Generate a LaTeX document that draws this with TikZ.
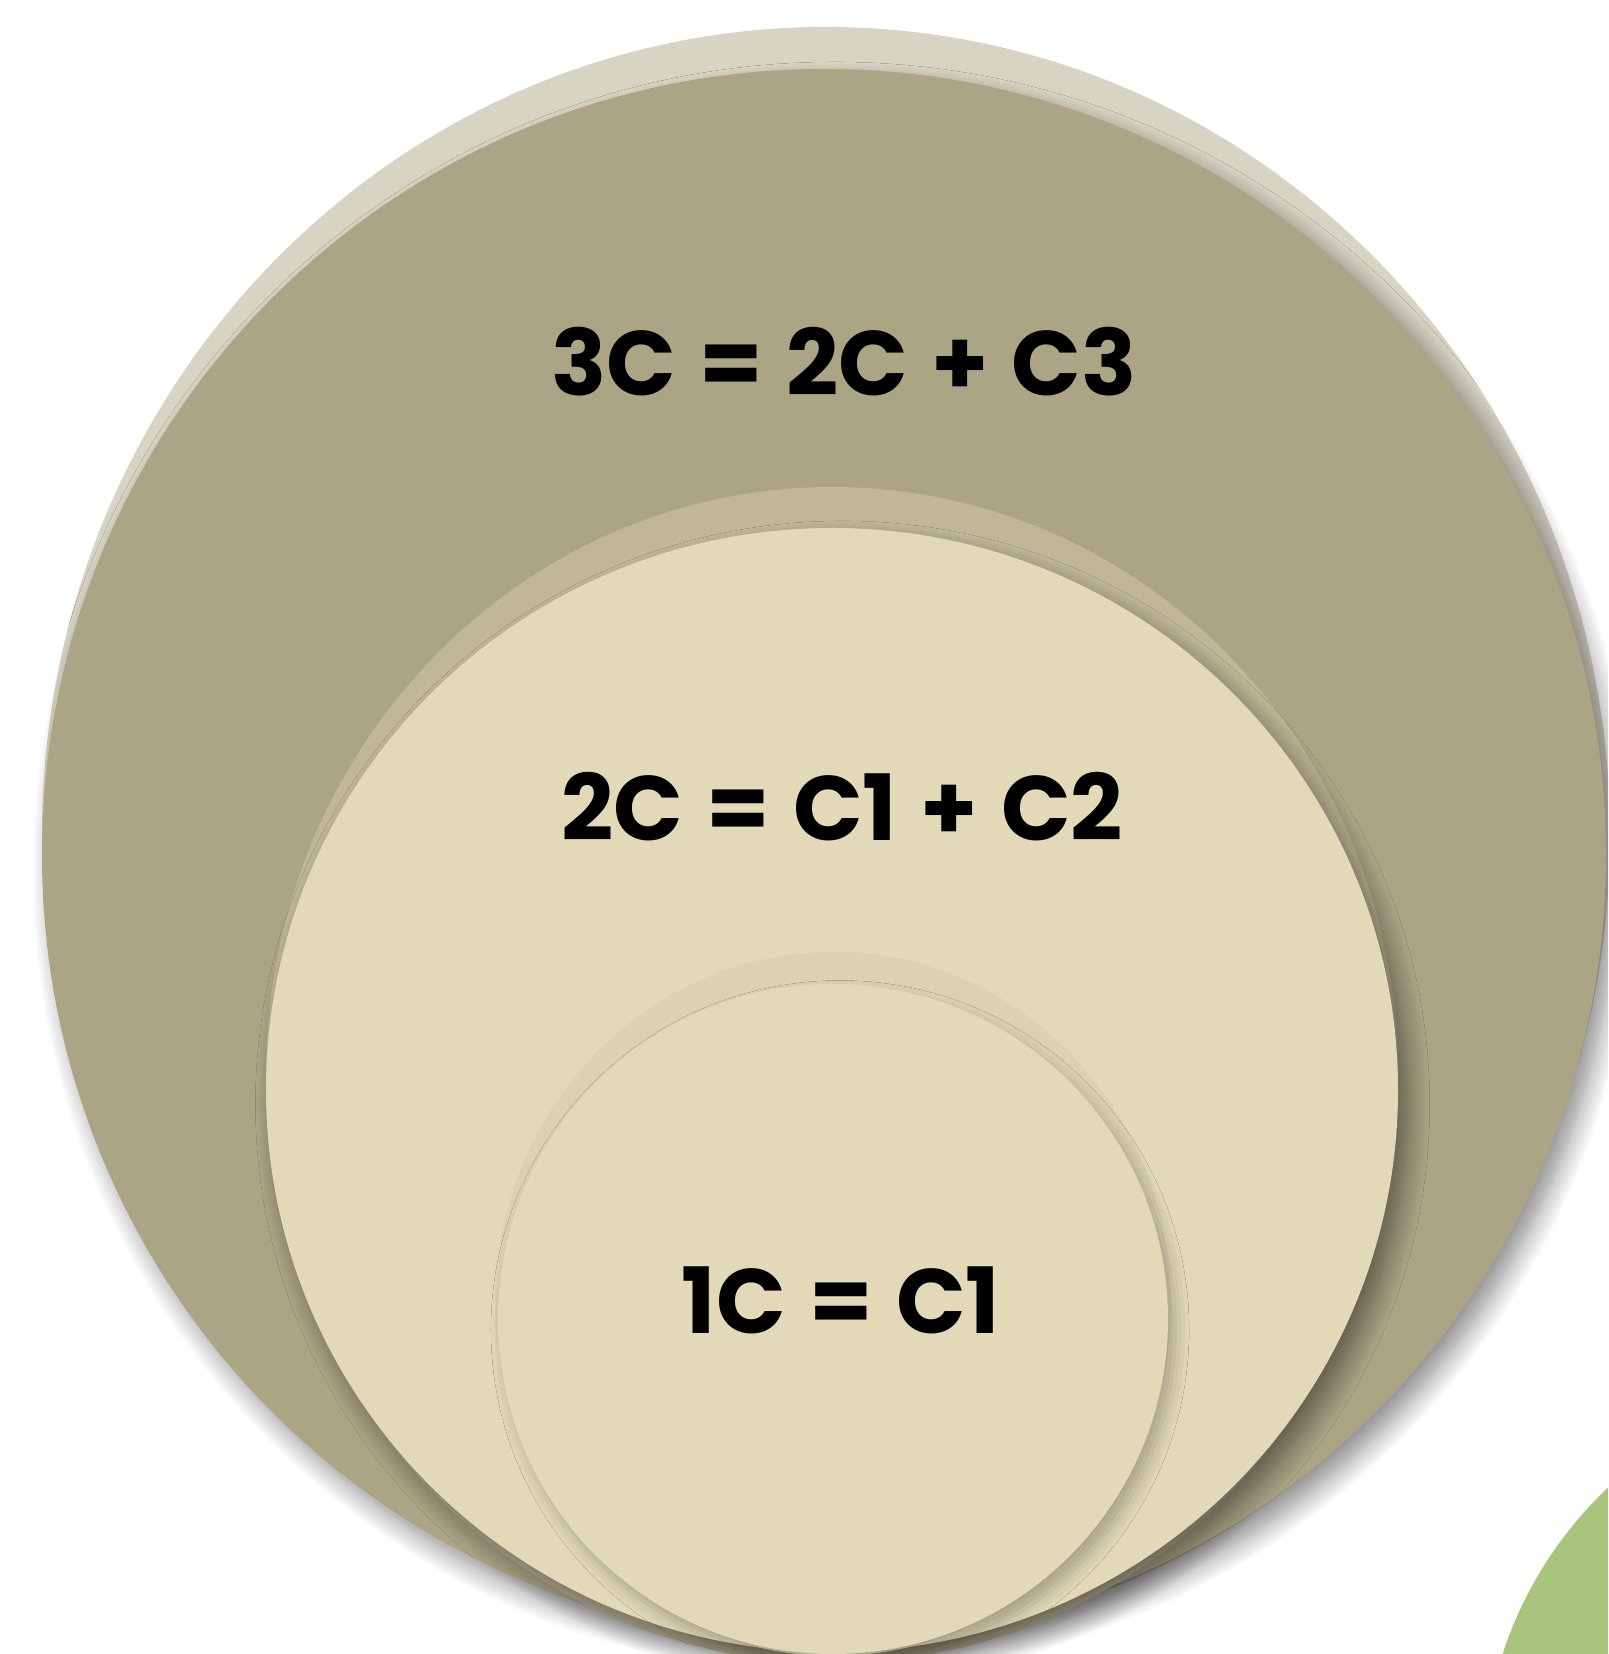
\documentclass[tikz,border=0pt]{standalone}
\usepackage{fontspec}
\setmainfont{Poppins}[WordSpace=1.2]
\usetikzlibrary{shadows.blur}
\definecolor{ringhaze}{HTML}{D7D4C4}
\definecolor{ringdark}{HTML}{ABA586}
\definecolor{midhaze}{HTML}{BFB798}
\definecolor{ringlight}{HTML}{E1D9B8}
\definecolor{innerhaze}{HTML}{DBD2B1}
\definecolor{leafgreen}{HTML}{A8C47D}
\tikzstyle{formula} = [font=\bfseries\fontsize{26}{31}\selectfont, text=black]
\tikzstyle{ringshadow} = [blur shadow={shadow xshift=3pt, shadow yshift=-4pt, shadow blur radius=6pt, shadow blur steps=12, shadow opacity=45}]

\begin{document}
\begin{tikzpicture}[x=0.01cm, y=0.01cm]
\useasboundingbox (0,0) rectangle (1608,1654);
\clip (0,0) rectangle (1608,1654);
\fill[leafgreen] (1883,-124) circle [radius=400];

\fill[ringhaze] (826,819) ellipse [x radius=784, y radius=808];
\fill[ringdark, ringshadow] (824,799) ellipse [x radius=782, y radius=786];

\fill[midhaze] (832,579) ellipse [x radius=566, y radius=588];
\fill[ringlight, ringshadow] (832,564) ellipse [x radius=566, y radius=562];

\fill[innerhaze] (833,350) ellipse [x radius=338, y radius=352];
\fill[ringlight, blur shadow={shadow xshift=2pt, shadow yshift=-3pt, shadow blur radius=4pt, shadow opacity=25}] (833,335) circle [radius=335];

\node(three)[formula] at (844,1292) {3C = 2C + C3};
\node(two)[formula] at (842,847) {2C = C1 + C2};
\node(one)[formula] at (841,354) {1C = C1};
\end{tikzpicture}
\end{document}
